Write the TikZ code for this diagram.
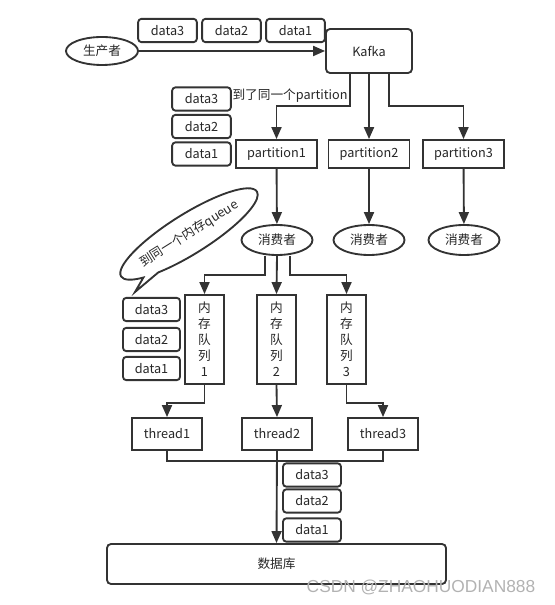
\documentclass[tikz,border=0pt]{standalone}
\usepackage{fontspec}
\setmainfont{Noto Sans CJK SC}
\newfontfamily\markfont{Liberation Sans}
\usetikzlibrary{shapes.geometric,shapes.callouts,arrows.meta}
\tikzstyle{every node} = [font={\fontsize{9.5}{12}\selectfont}, text=black!85]
\tikzstyle{box} = [draw=black!80, line width=1.4pt, rectangle, inner sep=0pt]
\tikzstyle{databox} = [box, rounded corners=2.5pt, minimum width=44pt, minimum height=17.5pt]
\tikzstyle{partbox} = [box, minimum width=60.75pt, minimum height=21pt]
\tikzstyle{queuebox} = [box, minimum width=29.25pt, minimum height=66.75pt, align=center]
\tikzstyle{threadbox} = [box, minimum width=52.5pt, minimum height=24pt]
\tikzstyle{oval} = [draw=black!80, line width=1.4pt, ellipse, inner sep=0pt]
\tikzstyle{line} = [draw=black!80, line width=1.4pt]
\tikzstyle{arr} = [line, -{Triangle[length=9pt,width=7.5pt]}]

\begin{document}
\begin{tikzpicture}[x=0.75pt,y=-0.75pt]
  \useasboundingbox (0,0) rectangle (554,605);
  % producer and kafka
  \node[oval,minimum width=54pt,minimum height=21pt](prod) at (102,51){生产者};
  \node[databox](top3) at (167.5,30.5){data3};
  \node[databox](top2) at (231.5,30.5){data2};
  \node[databox](top1) at (295.5,30.5){data1};
  \node[box,rounded corners=3pt,minimum width=64.5pt,minimum height=33pt](kafka) at (369,51){Kafka};
  \node(samepart) at (290,96){到了同一个partition};
  \node[databox](left3) at (201.5,99){data3};
  \node[databox](left2) at (201.5,126.5){data2};
  \node[databox](left1) at (201.5,154){data1};
  % partitions and consumers
  \node[partbox](p1) at (276.5,154){partition1};
  \node[partbox](p2) at (369,154){partition2};
  \node[partbox](p3) at (463.5,154){partition3};
  \node[oval,minimum width=53.25pt,minimum height=22.5pt](c1) at (277,240){消费者};
  \node[oval,minimum width=53.25pt,minimum height=22.5pt](c2) at (369,240){消费者};
  \node[oval,minimum width=53.25pt,minimum height=22.5pt](c3) at (464,240){消费者};
  \node[draw=black!80,line width=1.4pt,ellipse callout,rotate=32,minimum width=118pt,minimum height=30pt,inner sep=0pt,
        callout absolute pointer={(135,292)}](note) at (189,234){到同一个内存queue};
  % memory queues
  \node[databox,minimum width=42.75pt](mid3) at (151.5,309.5){data3};
  \node[databox,minimum width=42.75pt](mid2) at (151.5,339.5){data2};
  \node[databox,minimum width=42.75pt](mid1) at (151.5,368.5){data1};
  \node[queuebox](q1) at (204.5,339.5){内\\存\\队\\列\\1};
  \node[queuebox](q2) at (276.5,339.5){内\\存\\队\\列\\2};
  \node[queuebox](q3) at (346.5,339.5){内\\存\\队\\列\\3};
  % threads and database
  \node[threadbox](t1) at (167,434){thread1};
  \node[threadbox](t2) at (277,434){thread2};
  \node[threadbox](t3) at (383,434){thread3};
  \node[databox,minimum width=43.5pt](bot3) at (312,475){data3};
  \node[databox,minimum width=43.5pt](bot2) at (312,501){data2};
  \node[databox,minimum width=43.5pt](bot1) at (312,530){data1};
  \node[box,rounded corners=3pt,minimum width=254.25pt,minimum height=30pt](db) at (276.5,564){数据库};
  \node[font={\markfont\fontsize{13}{13}\selectfont},text=black!30](mark) at (421,587){CSDN @ZHAOHUODIAN888};
  % connectors
  \draw[arr](prod)--(kafka);
  \draw[arr]([xshift=-14.25pt]kafka.south)--++(0,32)-|(p1.north);
  \draw[arr](kafka.south)--(p2.north);
  \draw[arr]([xshift=15pt]kafka.south)--++(0,32)-|(p3.north);
  \draw[arr](p1)--(c1);
  \draw[arr](p2)--(c2);
  \draw[arr](p3)--(c3);
  \draw[arr]([xshift=-9pt]c1.south)--++(0,19)-|(q1.north);
  \draw[arr](c1.south)--(q2.north);
  \draw[arr]([xshift=9.75pt]c1.south)--++(0,19)-|(q3.north);
  \draw[arr](q1.south)--++(0,18)-|(t1.north);
  \draw[arr](q2.south)--(t2.north);
  \draw[arr](q3.south)--++(0,18)-|(t3.north);
  \draw[line,line width=1pt](t1.south)--++(0,10)-|(t3.south);
  \draw[arr](t2.south)--(db.north);
\end{tikzpicture}
\end{document}
